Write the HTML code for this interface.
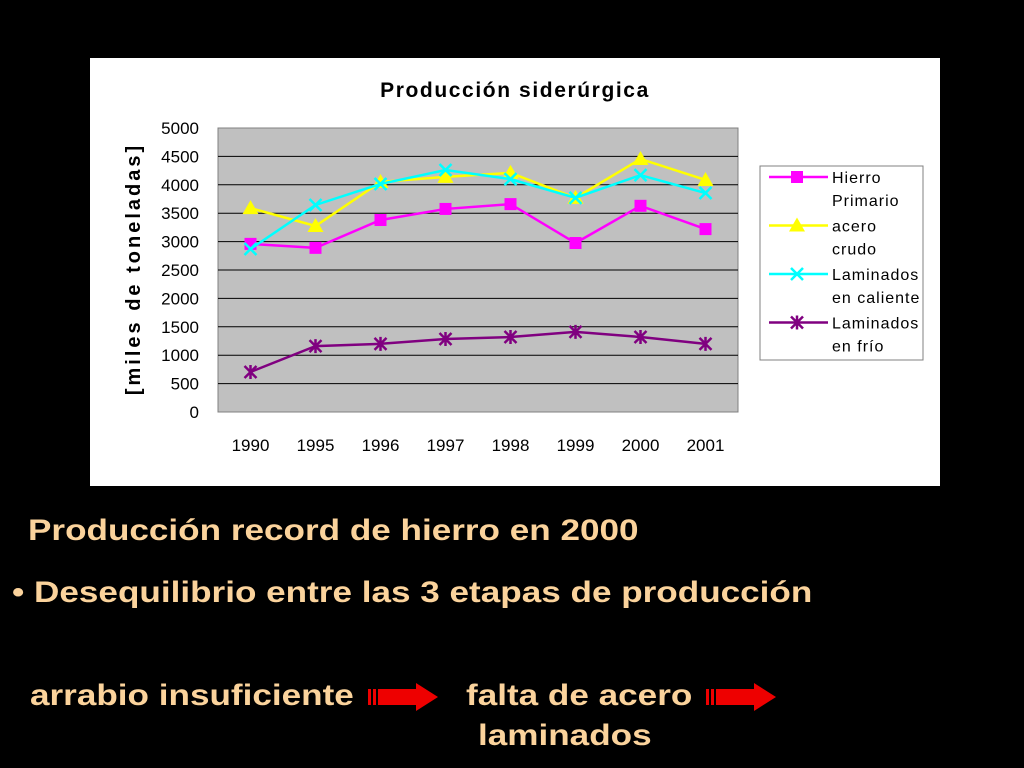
<!DOCTYPE html>
<html><head><meta charset="utf-8"><style>
body{margin:0;background:#000;width:1024px;height:768px;overflow:hidden;font-family:"Liberation Sans",sans-serif}
.t{position:absolute;color:#fbd39c;font-weight:bold;font-size:30px;white-space:nowrap;transform:scaleX(1.17);transform-origin:left top}
</style></head><body>
<svg width="1024" height="768" style="position:absolute;left:0;top:0">
<rect x="90" y="58" width="850" height="428" fill="#fff"/>
<text x="515" y="97" text-anchor="middle" font-size="21" font-weight="bold" letter-spacing="1.6" font-family="Liberation Sans">Producción siderúrgica</text>
<rect x="218" y="128" width="520" height="284" fill="#c0c0c0" stroke="#808080"/>
<g id="grid"></g><g id="yt"></g><g id="xt"></g><g id="series"></g>
<text transform="translate(140,269) rotate(-90)" text-anchor="middle" font-size="20" font-weight="bold" letter-spacing="3" font-family="Liberation Sans">[miles de toneladas]</text>
<g id="legend"><rect x="760" y="166" width="163" height="194" fill="#fff" stroke="#808080"/></g>
<g fill="#e00"><rect x="368" y="689" width="3" height="16"/><rect x="373" y="689" width="3" height="16"/><rect x="378" y="689" width="40" height="16"/><polygon points="416,683 438,697 416,711"/></g>
<g fill="#e00"><rect x="706" y="689" width="3" height="16"/><rect x="711" y="689" width="3" height="16"/><rect x="716" y="689" width="40" height="16"/><polygon points="754,683 776,697 754,711"/></g>
</svg>
<div class="t" style="left:28px;top:514px">Producción record de hierro en 2000</div>
<div class="t" style="left:12px;top:576px">• Desequilibrio entre las 3 etapas de producción</div>
<div class="t" style="left:30px;top:679px">arrabio insuficiente</div>
<div class="t" style="left:466px;top:679px">falta de acero</div>
<div class="t" style="left:478px;top:719px">laminados</div>
<script>
const categories=["1990","1995","1996","1997","1998","1999","2000","2001"];
const yTicks=[0,500,1000,1500,2000,2500,3000,3500,4000,4500,5000];
const hierro=[2960,2890,3380,3575,3660,2975,3630,3220];
const acero=[3590,3275,4050,4140,4210,3770,4455,4085];
const caliente=[2870,3645,4015,4260,4100,3770,4170,3855];
const frio=[705,1160,1200,1285,1320,1410,1320,1200];
const NS="http://www.w3.org/2000/svg";
const X0=218,W=520,Y0=412,H=284;
const xs=i=>X0+W/categories.length*(i+0.5);
const ys=v=>Y0-v/5000*H;
function mk(t,a,p){const e=document.createElementNS(NS,t);for(const k in a)e.setAttribute(k,a[k]);p.appendChild(e);return e;}
const g=document.getElementById('grid'),yt=document.getElementById('yt'),xt=document.getElementById('xt');
yTicks.forEach(v=>{if(v>0&&v<5000){const l=mk('line',{x1:X0,x2:X0+W,y1:ys(v),y2:ys(v),stroke:'#000','stroke-width':1},g);}
const t=mk('text',{x:199,y:ys(v)+6,'text-anchor':'end','font-size':17,'font-family':'Liberation Sans'},yt);t.textContent=v;});
categories.forEach((c,i)=>{const t=mk('text',{x:xs(i),y:451,'text-anchor':'middle','font-size':17,'font-family':'Liberation Sans'},xt);t.textContent=c;});
function marker(type,x,y,col,p){
 if(type==='sq')return mk('rect',{x:x-6,y:y-6,width:12,height:12,fill:col},p);
 if(type==='tri')return mk('polygon',{points:`${x},${y-8} ${x+8},${y+6} ${x-8},${y+6}`,fill:col},p);
 if(type==='x')return mk('path',{d:`M${x-6},${y-6}L${x+6},${y+6}M${x+6},${y-6}L${x-6},${y+6}`,stroke:col,'stroke-width':2.5},p);
 return mk('path',{d:`M${x-6},${y-6}L${x+6},${y+6}M${x+6},${y-6}L${x-6},${y+6}M${x},${y-7}L${x},${y+7}`,stroke:col,'stroke-width':2.5},p);
}
const S=[["hierro",hierro,'#ff00ff','sq',"Hierro","Primario"],["acero",acero,'#ffff00','tri',"acero","crudo"],["caliente",caliente,'#00ffff','x',"Laminados","en caliente"],["frio",frio,'#800080','ast',"Laminados","en frío"]];
const sg=document.getElementById('series'),lg=document.getElementById('legend');
S.forEach((s,k)=>{const gg=mk('g',{},sg);
 const pl=mk('polyline',{points:s[1].map((v,i)=>xs(i)+','+ys(v)).join(' '),fill:'none',stroke:s[2],'stroke-width':2.5},gg);
 s[1].forEach((v,i)=>{const m=marker(s[3],xs(i),ys(v),s[2],gg);});
 const ly=177+k*48.5;const le=mk('g',{},lg);
 mk('line',{x1:769,x2:828,y1:ly,y2:ly,stroke:s[2],'stroke-width':2.5},le);marker(s[3],797,ly,s[2],le);
 const t1=mk('text',{x:832,y:ly+6,'font-size':16,'letter-spacing':1,'font-family':'Liberation Sans'},le);t1.textContent=s[4];
 const t2=mk('text',{x:832,y:ly+29,'font-size':16,'letter-spacing':1,'font-family':'Liberation Sans'},le);t2.textContent=s[5];
});
</script>
</body></html>
